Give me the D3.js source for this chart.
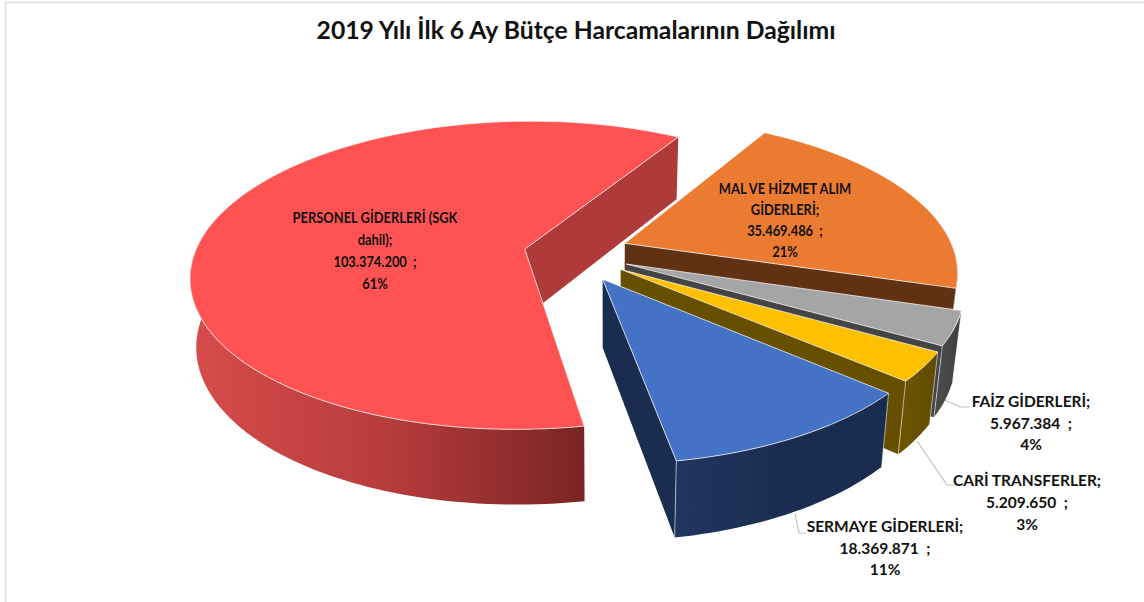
<!DOCTYPE html>
<html>
<head>
<meta charset="utf-8">
<script src="https://d3js.org/d3.v7.min.js"></script>
<style>
  html, body { margin: 0; background: #fff; }
  svg { display: block; }
  text { font-family: Lato, "Open Sans", sans-serif; font-weight: 700; fill: #111; white-space: pre; text-anchor: middle; }
</style>
</head>
<body>
<div id="chart"></div>
<script>
var title = '2019 Yılı İlk 6 Ay Bütçe Harcamalarının Dağılımı';

var categories = ['PERSONEL GİDERLERİ (SGK dahil)', 'MAL VE HİZMET ALIM GİDERLERİ', 'FAİZ GİDERLERİ', 'CARİ TRANSFERLER', 'SERMAYE GİDERLERİ'];
var values = [103374200, 35469486, 5967384, 5209650, 18369871];
var percents = ['61%', '21%', '4%', '3%', '11%'];
var explode = [0.14, 0.18, 0.184, 0.185, 0.195];
var perspective = [0.17, 0.17, 0.14, 0.14, 0.14];

var topColors = ['#ff5353', '#eb7b31', '#a5a5a5', '#ffc000', '#4472c4'];
var wallColors = ['#ae3a3a', '#613114', '#444444', '#665000', '#1a2c50'];
var rimColors = [['#d84b4b', '#b73c3c', '#7a2424'], ['#8a4a1e', '#613114', '#613114'], ['#4a4a4a', '#444444', '#3c3c3c'], ['#6b5400', '#665000', '#604b00'], ['#21365f', '#1a2c50', '#1a2c50']];

// label lines are split the way the chart wraps them
var labelLines = [
    ['PERSONEL GİDERLERİ (SGK', 'dahil);'],
    ['MAL VE HİZMET ALIM', 'GİDERLERİ;'],
    ['FAİZ GİDERLERİ;'],
    ['CARİ TRANSFERLER;'],
    ['SERMAYE GİDERLERİ;']
];
// x, first baseline, line step, font size, horizontal squeeze
var labelPos = [[375, 223, 22, 14.5, 0.89], [785, 194, 21, 14.5, 0.89], [1031, 407, 21.5, 15.5, 1], [1027, 486, 22, 15.5, 1], [885, 532, 21.5, 15.5, 1]];
var leaders = [null, null, [[945, 400], [960, 407], [970, 407]], [[917, 441], [947, 485], [956, 485]], [[795, 513], [799, 533], [806, 533]]];

var width = 1144, height = 602;
var cx = 570, cy = 253, rx = 330, ry = 151;
var startDeg = 170;

var svg = d3.select('#chart').append('svg').attr('width', width).attr('height', height);
var defs = svg.append('defs');

// chart frame, only top and left show in the crop
svg.append('path')
    .attr('d', 'M5.5,' + height + 'V2.5H' + width)
    .attr('fill', 'none')
    .attr('stroke', '#dcdcdc')
    .attr('stroke-width', 1.5);

var xScale = d3.scaleLinear().domain([-1, 1]).range([cx - rx, cx + rx]);
var yScale = d3.scaleLinear().domain([-1, 1]).range([cy - ry, cy + ry]);

// unit-disc coordinates to the screen, near side of the disc is larger
function project(u, v, k) {
    var s = 1 / (1 - k * v);
    return [xScale(u * s), yScale(v * s)];
}

// the underside of the disc: walls lean toward a point under the chart
function below(p) {
    var lean = p[0] < 610 ? 0.015 : 0.025;
    return [p[0] - (p[0] - 610) * lean, p[1] + 62 + (p[1] - 135) * 0.045];
}

var pie = d3.pie().sort(null)
    .startAngle(startDeg * Math.PI / 180)
    .endAngle((startDeg + 360) * Math.PI / 180);
var slices = pie(values);

var line = d3.line();

function cross(a, b) {
    var d = below(b);
    return (b[0] - a[0]) * (d[1] - b[1]) - (b[1] - a[1]) * (d[0] - b[0]);
}

// leader lines go under the slices
var leaderG = svg.append('g');
leaders.forEach(function (l) {
    if (!l) return;
    leaderG.append('path')
        .attr('d', line(l))
        .attr('fill', 'none')
        .attr('stroke', '#bfbfbf')
        .attr('stroke-width', 1.2);
});

slices.forEach(function (d, i) {
    var mid = (d.startAngle + d.endAngle) / 2;
    var eu = explode[i] * Math.sin(mid);
    var ev = -explode[i] * Math.cos(mid);
    var k = perspective[i];
    var apex = project(eu, ev, k);

    var n = Math.ceil((d.endAngle - d.startAngle) * 40);
    var rim = d3.range(n + 1).map(function (j) {
        var a = d.startAngle + (d.endAngle - d.startAngle) * j / n;
        return project(eu + Math.sin(a), ev - Math.cos(a), k);
    });
    var first = rim[0], last = rim[n];

    var g = svg.append('g');

    // only the front of the outer wall can show
    var front = rim.filter(function (p, j) { return Math.cos(d.startAngle + (d.endAngle - d.startAngle) * j / n) < 0.25; });
    var frontBelow = front.map(below);
    var ext = d3.extent(front, function (p) { return p[0]; });
    var gradId = 'rim' + i;
    var grad = defs.append('linearGradient')
        .attr('id', gradId)
        .attr('gradientUnits', 'userSpaceOnUse')
        .attr('x1', ext[0]).attr('x2', ext[1])
        .attr('y1', 0).attr('y2', 0);
    rimColors[i].forEach(function (c, j) {
        grad.append('stop').attr('offset', j / (rimColors[i].length - 1)).attr('stop-color', c);
    });
    g.append('path')
        .attr('d', line(front.concat(frontBelow.slice().reverse())) + 'Z')
        .attr('fill', 'url(#' + gradId + ')');

    // straight cut faces, skip the ones turned away
    if (cross(apex, first) < 0) {
        g.append('path')
            .attr('d', line([apex, first, below(first), below(apex)]) + 'Z')
            .attr('fill', wallColors[i]);
    }
    if (cross(apex, last) > 0) {
        g.append('path')
            .attr('d', line([apex, last, below(last), below(apex)]) + 'Z')
            .attr('fill', wallColors[i]);
    }

    // white seams: down the corners of the wall
    g.append('path')
        .attr('d', line([last, below(last)]))
        .attr('stroke', i === 0 ? 'none' : '#fff')
        .attr('stroke-opacity', 0.7)
        .attr('stroke-width', 0.8);
    g.append('path')
        .attr('d', line([first, below(first)]))
        .attr('stroke', '#fff')
        .attr('stroke-opacity', i === 0 ? 0 : 0.7)
        .attr('stroke-width', 0.8);

    g.append('path')
        .attr('d', line([apex].concat(rim)) + 'Z')
        .attr('fill', topColors[i])
        .attr('stroke', '#fff')
        .attr('stroke-opacity', 0.8)
        .attr('stroke-width', 0.9)
        .attr('stroke-linejoin', 'round');
});

function thousands(v) {
    return d3.format(',')(v).replace(/,/g, '.');
}

svg.append('text')
    .attr('x', 576)
    .attr('y', 39)
    .attr('font-size', 24.7)
    .text(title);

categories.forEach(function (c, i) {
    var pos = labelPos[i];
    var lines = labelLines[i].concat([thousands(values[i]) + '  ;', percents[i]]);
    var t = svg.append('text')
        .attr('font-size', pos[3])
        .attr('transform', 'translate(' + pos[0] + ',' + pos[1] + ') scale(' + pos[4] + ',1)');
    lines.forEach(function (s, j) {
        t.append('tspan')
            .attr('x', 0)
            .attr('y', j * pos[2])
            .text(s);
    });
});
</script>
</body>
</html>
